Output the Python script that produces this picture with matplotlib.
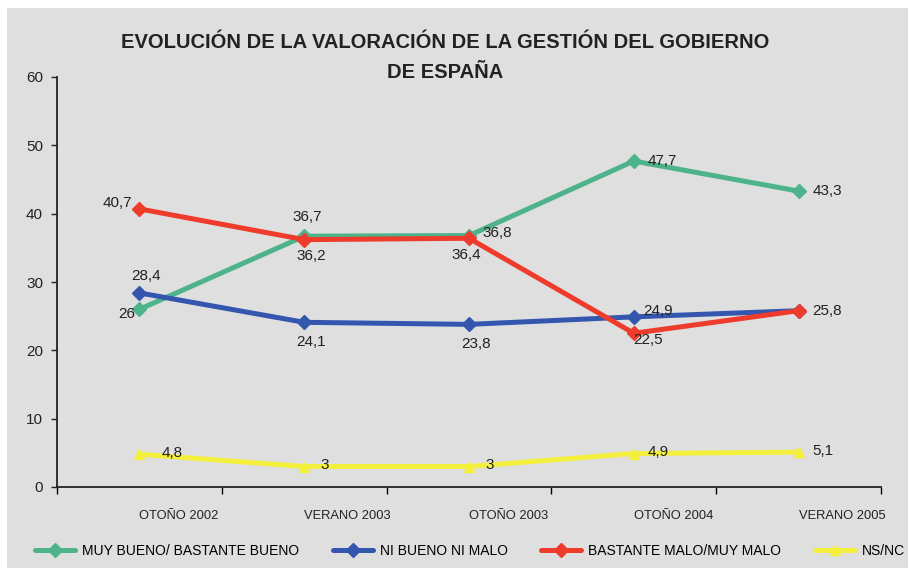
import matplotlib.pyplot as plt
from matplotlib.patches import Rectangle

plt.rcParams['font.family'] = ['Liberation Sans Narrow', 'Liberation Sans', 'DejaVu Sans']

periods = ["OTOÑO 2002", "VERANO 2003", "OTOÑO 2003", "OTOÑO 2004", "VERANO 2005"]

bueno = [26, 36.7, 36.8, 47.7, 43.3]
ni_ni = [28.4, 24.1, 23.8, 24.9, 25.8]
malo = [40.7, 36.2, 36.4, 22.5, 25.8]
nsnc = [4.8, 3, 3, 4.9, 5.1]

series = [
    ("MUY BUENO/ BASTANTE BUENO", bueno, "#4db38a", "D"),
    ("NI BUENO NI MALO", ni_ni, "#3456ae", "D"),
    ("BASTANTE MALO/MUY MALO", malo, "#ee3b2b", "D"),
    ("NS/NC", nsnc, "#f4ee3c", "^"),
]

# label offsets in points (dx, dy, ha) per series / point; None = no label
offsets = [
    [(-3, -3, "right"), (2, 14, "center"), (10, 2, "left"), (10, 0, "left"), (10, 0, "left")],
    [(5, 12, "center"), (5, -14, "center"), (5, -14, "center"), (7, 4, "left"), None],
    [(-5, 4, "right"), (5, -12, "center"), (-2, -12, "center"), (10, -5, "center"), (10, 0, "left")],
    [(16, 1, "left"), (12, 1, "left"), (12, 1, "left"), (10, 1, "left"), (10, 1, "left")],
]

fig = plt.figure(figsize=(9.09, 5.69), dpi=100)
fig.patch.set_facecolor("white")
fig.patches.append(Rectangle((7 / 909, 1 / 569), 901 / 909, 560 / 569,
                             transform=fig.transFigure, facecolor="#dfdfdf",
                             edgecolor="none", zorder=-10))

ax = fig.add_axes([57 / 909, 1 - 487 / 569, 824 / 909, 410 / 569])
ax.set_facecolor("none")

x = list(range(len(periods)))
for (name, vals, color, mk), offs in zip(series, offsets):
    ax.plot(x, vals, color=color, lw=3.6, marker=mk, markersize=7,
            label=name, solid_capstyle="round", clip_on=False)
    for xi, v, off in zip(x, vals, offs):
        if off is None:
            continue
        dx, dy, ha = off
        txt = f"{v:g}".replace(".", ",")
        ax.annotate(txt, (xi, v), xytext=(dx, dy), textcoords="offset points",
                    ha=ha, va="center", fontsize=11, color="#222222")

ax.set_xlim(-0.5, len(periods) - 0.5)
ax.set_ylim(0, 60)
ax.set_yticks(range(0, 61, 10))
ax.tick_params(axis="y", length=4, width=1, labelsize=11, colors="#222222", pad=6)

ax.set_xticks([i + 0.5 for i in range(-1, len(periods))])
ax.set_xticklabels([])
ax.tick_params(axis="x", length=5, width=1, direction="out")
for xi, p in zip(x, periods):
    ax.text(xi, -4.3, p, ha="left", va="center", fontsize=9.3, color="#222222")

for s in ["top", "right"]:
    ax.spines[s].set_visible(False)
for s in ["left", "bottom"]:
    ax.spines[s].set_linewidth(1.3)
    ax.spines[s].set_color("#222222")

fig.text(445 / 909, 1 - 42 / 569, "EVOLUCIÓN DE LA VALORACIÓN DE LA GESTIÓN DEL GOBIERNO",
         ha="center", va="center", fontsize=14.5, fontweight="bold", color="#222222")
fig.text(445 / 909, 1 - 73 / 569, "DE ESPAÑA",
         ha="center", va="center", fontsize=14.5, fontweight="bold", color="#222222")

leg = fig.legend(loc="center", bbox_to_anchor=(470 / 909, 1 - 551 / 569), ncol=4,
                 frameon=False, fontsize=10, handlelength=2.9, columnspacing=2.4,
                 handletextpad=0.5)

fig.savefig("out.png", dpi=100)
